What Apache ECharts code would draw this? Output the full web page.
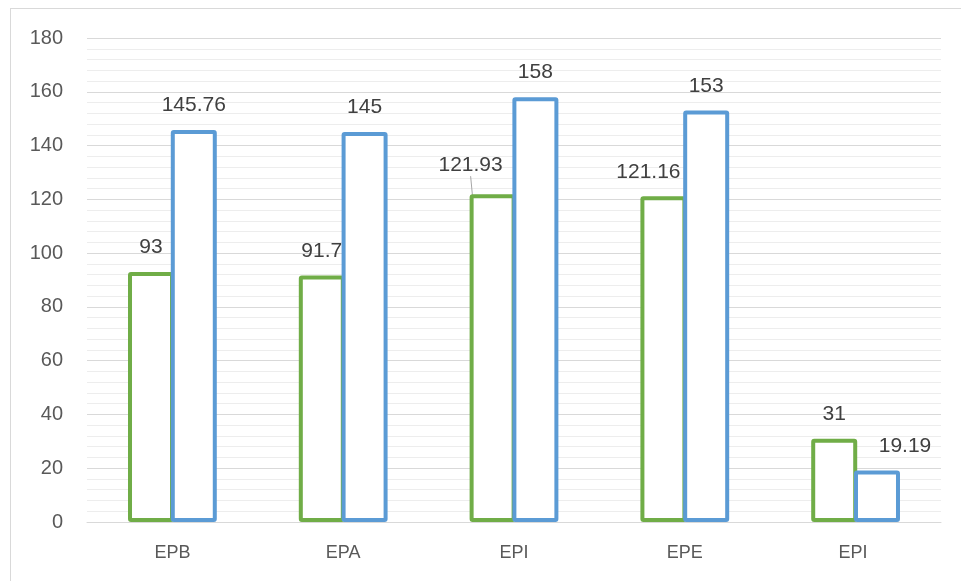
<!DOCTYPE html>
<html>
<head>
<meta charset="utf-8">
<script src="https://cdn.jsdelivr.net/npm/echarts@6/dist/echarts.min.js"></script>
<style>
  body { margin: 0; background: #fff; }
  .frame {
    position: absolute;
    left: 10px;
    top: 8px;
    width: 960px;
    height: 580px;
    border: 1px solid #D9D9D9;
  }
  #chart {
    position: absolute;
    left: 0;
    top: 0;
    width: 961px;
    height: 581px;
  }
</style>
</head>
<body>
<div class="frame"></div>
<div id="chart"></div>
<script>
const categories = ['EPB', 'EPA', 'EPI', 'EPE', 'EPI ']
const greenValues = [93, 91.7, 121.93, 121.16, 31]
const blueValues = [145.76, 145, 158, 153, 19.19]
const yTicks = [0, 20, 40, 60, 80, 100, 120, 140, 160, 180]

// label nudges so the data labels sit where Excel put them
const greenShift = [null, null, [-22, -4], [-15, 0], null]
const blueShift = [null, null, null, null, [28, 0]]
// only this label has a leader line in the picture
const greenLeader = [false, false, true, false, false]

const myChart = echarts.init(document.getElementById('chart'))

function barSeries (name, values, color, shift, leader) {
  return {
    name: name,
    type: 'bar',
    data: values.map(function (v, i) {
      return {
        value: v,
        labelLine: { show: !!(leader && leader[i]) }
      }
    }),
    barWidth: 46,
    barGap: '-7%',
    itemStyle: {
      color: '#fff',
      borderColor: color,
      borderWidth: 4,
      borderRadius: 1
    },
    label: {
      show: true,
      position: 'top',
      distance: 14,
      color: '#404040',
      fontSize: 21,
      fontFamily: 'Liberation Sans, Arial, sans-serif'
    },
    labelLayout: function (p) {
      const s = shift[p.dataIndex]
      if (!s) return {}
      return { dx: s[0], dy: s[1] }
    },
    labelLine: {
      show: false,
      lineStyle: { color: '#A6A6A6', width: 1 }
    }
  }
}

myChart.setOption({
  animation: false,
  grid: {
    left: 87,
    right: 20,
    top: 38,
    bottom: 59
  },
  xAxis: {
    type: 'category',
    data: categories,
    axisLine: { lineStyle: { color: '#D9D9D9', width: 1 } },
    axisTick: { show: false },
    axisLabel: {
      color: '#595959',
      fontSize: 18,
      margin: 22,
      fontFamily: 'Liberation Sans, Arial, sans-serif'
    }
  },
  yAxis: {
    type: 'value',
    min: yTicks[0],
    max: yTicks[yTicks.length - 1],
    interval: 20,
    axisLine: { show: false },
    axisTick: { show: false },
    axisLabel: {
      color: '#595959',
      fontSize: 20,
      margin: 24,
      fontFamily: 'Liberation Sans, Arial, sans-serif'
    },
    splitLine: { lineStyle: { color: '#D9D9D9', width: 1 } },
    minorTick: { show: false, splitNumber: 5 },
    minorSplitLine: { show: true, lineStyle: { color: '#EDEDED', width: 1 } }
  },
  series: [
    barSeries('green', greenValues, '#70AD47', greenShift, greenLeader),
    barSeries('blue', blueValues, '#5B9BD5', blueShift, null)
  ]
})
</script>
</body>
</html>
